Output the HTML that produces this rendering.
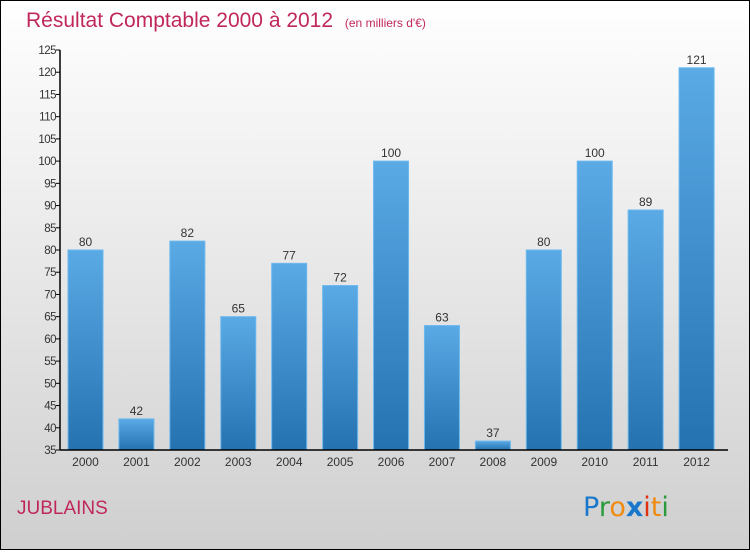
<!DOCTYPE html>
<html><head><meta charset="utf-8"><style>
html,body{margin:0;padding:0}
body{width:750px;height:550px;overflow:hidden;font-family:"Liberation Sans",sans-serif}
</style></head><body>
<svg id="chart" width="750" height="550" xmlns="http://www.w3.org/2000/svg">
<defs>
<linearGradient id="bg" x1="0" y1="0" x2="0" y2="1"><stop offset="0" stop-color="#ffffff"/><stop offset="1" stop-color="#cfcfcf"/></linearGradient>
<linearGradient id="bar" x1="0" y1="0" x2="0" y2="1"><stop offset="0" stop-color="#5aaae6"/><stop offset="1" stop-color="#2572b0"/></linearGradient>
</defs>
<rect x="0.5" y="0.5" width="749" height="549" fill="url(#bg)" stroke="#000"/>
<text x="26" y="27" font-size="21" fill="#c0285a">Résultat Comptable 2000 à 2012 <tspan font-size="12" dx="6">(en milliers d'€)</tspan></text>
<text x="17" y="514" font-size="19" fill="#c0285a">JUBLAINS</text>
<g font-size="27" font-family="'DejaVu Sans',sans-serif">
<text x="583" y="516"><tspan fill="#1a78cc">P</tspan><tspan fill="#2a9a3a">r</tspan><tspan fill="#f08a10">o</tspan><tspan fill="#1a78cc" font-weight="bold">x</tspan><tspan fill="#e03010">i</tspan><tspan fill="#f08a10">t</tspan><tspan fill="#2a9a3a">i</tspan></text>
</g>
<g id="plot"></g>
</svg>
<script>
const years=["2000","2001","2002","2003","2004","2005","2006","2007","2008","2009","2010","2011","2012"];
const values=[80,42,82,65,77,72,100,63,37,80,100,89,121];
const yTicks=[35,40,45,50,55,60,65,70,75,80,85,90,95,100,105,110,115,120,125];
const NS="http://www.w3.org/2000/svg";
const x0=60,x1=722,yTop=50,yBot=450,vMin=35,vMax=125;
const y=v=>yBot-(v-vMin)/(vMax-vMin)*(yBot-yTop);
const step=(x1-x0)/years.length;
const xb=i=>x0+8+i*step;
const g=document.getElementById('plot');
function mk(t,a,txt){const e=document.createElementNS(NS,t);for(const k in a)e.setAttribute(k,a[k]);if(txt!=null)e.textContent=txt;g.appendChild(e);return e;}
values.forEach((v,i)=>{
 const r=mk('rect',{x:xb(i),y:y(v),width:35,height:yBot-y(v),fill:'url(#bar)',stroke:'#6cb8ee','stroke-width':1});
 
 
 const t=mk('text',{x:xb(i)+17.5,y:y(v)-4,'text-anchor':'middle','font-size':12,fill:'#333'},v);
 
 
 const xl=mk('text',{x:xb(i)+17.5,y:466,'text-anchor':'middle','font-size':12,fill:'#333'},years[i]);
 
 
});
yTicks.forEach(v=>{
 const l=mk('line',{x1:x0-4,x2:x0,y1:y(v),y2:y(v),stroke:'#000'});
 
 
 const t=mk('text',{x:x0-4,y:y(v)+4,'text-anchor':'end','font-size':11.5,fill:'#333','letter-spacing':'-0.5'},v);
 
 
});
const ya=mk('line',{x1:x0,x2:x0,y1:yTop,y2:yBot,stroke:'#000','stroke-width':1.5});


const xa=mk('line',{x1:x0,x2:x1+6,y1:yBot,y2:yBot,stroke:'#000','stroke-width':1.5});


</script>
</body></html>
